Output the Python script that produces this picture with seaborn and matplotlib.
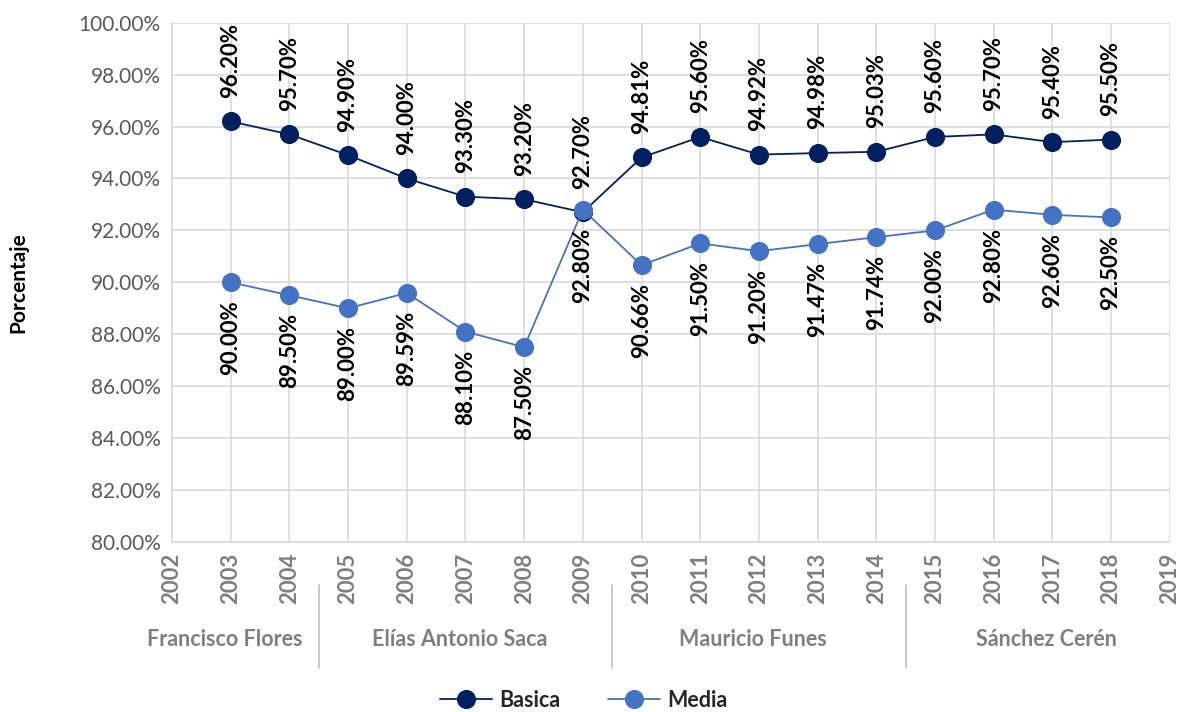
import numpy as np
import pandas as pd
import matplotlib
matplotlib.use("Agg")
import matplotlib.pyplot as plt
import seaborn as sns

years = list(range(2003, 2019))
basica = [96.20, 95.70, 94.90, 94.00, 93.30, 93.20, 92.70, 94.81,
          95.60, 94.92, 94.98, 95.03, 95.60, 95.70, 95.40, 95.50]
media = [90.00, 89.50, 89.00, 89.59, 88.10, 87.50, 92.80, 90.66,
         91.50, 91.20, 91.47, 91.74, 92.00, 92.80, 92.60, 92.50]
axis_years = list(range(2002, 2020))
groups = ["Francisco Flores", "Elías Antonio Saca", "Mauricio Funes", "Sánchez Cerén"]
group_spans = [(2002, 2004), (2005, 2009), (2010, 2014), (2015, 2019)]

sns.set_theme(style="whitegrid")
plt.rcParams['font.family'] = ['Lato', 'DejaVu Sans']

c_bas = "#002060"
c_med = "#4472C4"
grey = "#7F7F7F"

df = pd.DataFrame({"anio": years, "Basica": basica, "Media": media})

fig = plt.figure(figsize=(11.78, 7.12), dpi=100)
ax = fig.add_axes([0.146, 0.239, 0.847, 0.729])

sns.lineplot(data=df, x="anio", y="Basica", ax=ax, color=c_bas, marker="o",
             markersize=13, linewidth=1.3, markeredgecolor=c_bas, label="Basica")
sns.lineplot(data=df, x="anio", y="Media", ax=ax, color=c_med, marker="o",
             markersize=13, linewidth=1.3, markeredgecolor=c_med, label="Media")

# etiquetas de datos
for x, v in zip(years, basica):
    ax.annotate(f"{v:.2f}%", (x, v), xytext=(0, 17), textcoords="offset points",
                rotation=90, ha="center", va="bottom", fontsize=16,
                fontweight="bold", color="black")
for x, v in zip(years, media):
    ax.annotate(f"{v:.2f}%", (x, v), xytext=(0, -13), textcoords="offset points",
                rotation=90, ha="center", va="top", fontsize=16,
                fontweight="bold", color="black")

ax.set_xlim(2002, 2019)
ax.set_ylim(80, 100)
ax.set_yticks(np.arange(80, 100.1, 2))
ax.set_yticklabels([f"{t:.2f}%" for t in np.arange(80, 100.1, 2)],
                   fontsize=15, color="#595959")
ax.set_xticks(axis_years)
ax.set_xticklabels([str(y) for y in axis_years], rotation=90, fontsize=16,
                   fontweight="bold", color=grey)
ax.tick_params(axis="both", length=0, pad=8)
ax.grid(True, color="#D9D9D9", linewidth=1.2)
for s in ["top", "right"]:
    ax.spines[s].set_visible(False)
for s in ["left", "bottom"]:
    ax.spines[s].set_color("#D9D9D9")
    ax.spines[s].set_linewidth(1.2)

ax.set_xlabel("")
ax.set_ylabel("Porcentaje", fontsize=15, fontweight="bold", color="black", labelpad=36)

# grupos presidenciales
trans = ax.get_xaxis_transform()
for name, (a, b) in zip(groups, group_spans):
    ax.text((a + b) / 2 - 0.1, -0.188, name, transform=trans, ha="center", va="center",
            fontsize=15.5, fontweight="bold", color=grey, clip_on=False)
for sep in [2004.5, 2009.5, 2014.5]:
    ax.plot([sep, sep], [-0.084, -0.244], transform=trans, color="#BFBFBF",
            linewidth=1.2, clip_on=False)

leg = ax.legend(loc="center", bbox_to_anchor=(0.413, -0.305), ncol=2, frameon=False,
                fontsize=15.5, handlelength=2.4, handletextpad=0.35,
                columnspacing=2.2)
for t in leg.get_texts():
    t.set_fontweight("bold")

fig.savefig("out.png", dpi=100)
